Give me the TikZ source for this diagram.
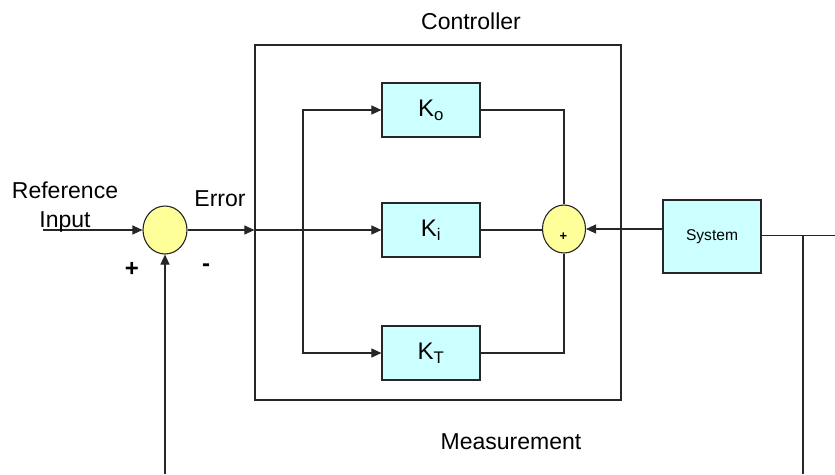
\documentclass[tikz,border=0pt]{standalone}
\usepackage{fontspec}
\setmainfont{Liberation Sans}
\usepackage{tikz}
\usetikzlibrary{arrows.meta,calc,positioning,shapes.geometric}
\usepackage{xcolor}
\definecolor{blockfill}{HTML}{CCFFFF}
\definecolor{sumfill}{HTML}{FFFF99}
\newcommand{\labelsize}{\fontsize{23}{29}\selectfont}
\tikzset{
  signal/.style={line width=1.1pt,draw=black!85},
  flow/.style={signal,-{Triangle[length=10pt,width=9pt]}},
  gain block/.style={draw=black!85,line width=1.2pt,fill=blockfill,minimum width=98pt,
    minimum height=54pt,inner sep=0pt,font=\fontsize{24}{26}\selectfont},
  summer/.style={ellipse,draw=black!85,line width=1.1pt,fill=sumfill,minimum width=44pt,
    minimum height=48pt,inner sep=0pt},
  diagram label/.style={font=\labelsize,inner sep=0pt},
  sign label/.style={font=\fontsize{24}{24}\selectfont\bfseries,inner sep=0pt}
}

\begin{document}
\begin{tikzpicture}[x=1pt,y=-1pt,line cap=butt,line join=miter]
  \useasboundingbox (0,0) rectangle (835,474);

  % controller frame and its blocks
  \node[draw=black!85,line width=1.2pt,minimum width=366pt,minimum height=355pt,inner sep=0pt]
    (ctrl) at (438,222.5) {};
  \node[gain block] (ko) at (431,110) {K\textsubscript{o}};
  \node[gain block] (ki) at (431,230) {K\textsubscript{i}};
  \node[gain block] (kt) at (431,353) {K\textsubscript{T}};

  \node[summer] (sumL) at (165,230) {};
  \node[summer,minimum width=43pt] (sumR) at (564,229) {};
  \node[gain block,minimum height=73pt,font=\fontsize{15.6}{18}\selectfont] (sys) at (712,236.5) {System};

  \coordinate (refin) at (43,230);
  \coordinate (br)    at (303,230);
  \coordinate (tap)   at (803,235.5);
  \coordinate (outR)  at (835,235.5);
  \coordinate (fbL)   at (165,474);
  \coordinate (fbR)   at (803,474);

  % forward path
  \draw[flow] (refin) -- (sumL);
  \draw[flow] (sumL) -- (sumL -| ctrl.west);
  \draw[flow] (sumL -| ctrl.west) -- (ki);
  \draw[flow] (br) |- (ko);
  \draw[flow] (br) |- (kt);
  \draw[signal] (ko) -| (sumR);
  \draw[signal] (kt) -| (sumR);
  \draw[signal] (ki) -- (ki -| sumR.west);
  \draw[flow] (sys.west |- sumR) -- (sumR);
  \draw[signal] (sys.east |- tap) -- (outR);

  % feedback
  \draw[signal] (tap) -- (fbR);
  \draw[flow] (fbL) -- (sumL);

  \node[diagram label,align=center] (reflbl) at (65,207.5) {Reference\\Input};
  \node[diagram label] (errlbl) at (220,199) {Error};
  \node[diagram label] (ctrllbl) at (471,21) {Controller};
  \node[diagram label] (measlbl) at (511,442) {Measurement};
  \node[sign label,font=\fontsize{13}{13}\selectfont\bfseries] (sumplus) at (563.5,237) {+};
  \node[sign label] (plus) at (132,269) {+};
  \node[sign label] (minus) at (206,268) {-};
\end{tikzpicture}
\end{document}
